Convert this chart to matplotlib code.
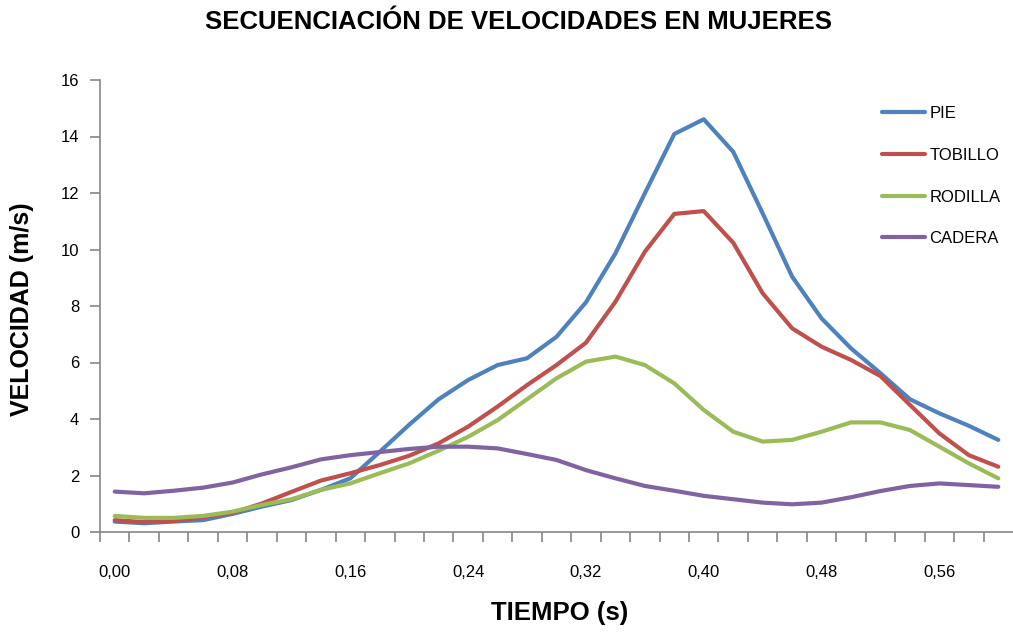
import matplotlib
matplotlib.use("Agg")
import matplotlib.pyplot as plt
import numpy as np

tiempo = [round(0.02 * i, 2) for i in range(31)]

pie = [0.37, 0.31, 0.37, 0.42, 0.64, 0.90, 1.13, 1.49, 1.90, 2.84,
       3.80, 4.70, 5.38, 5.91, 6.15, 6.91, 8.13, 9.86, 11.99, 14.09,
       14.61, 13.46, 11.28, 9.04, 7.56, 6.50, 5.62, 4.70, 4.20, 3.76, 3.26]
tobillo = [0.42, 0.35, 0.39, 0.52, 0.68, 1.01, 1.42, 1.82, 2.08, 2.37,
           2.70, 3.14, 3.73, 4.44, 5.20, 5.91, 6.70, 8.15, 9.92, 11.26,
           11.36, 10.24, 8.45, 7.21, 6.56, 6.09, 5.52, 4.50, 3.49, 2.72, 2.31]
rodilla = [0.57, 0.50, 0.50, 0.57, 0.72, 0.96, 1.16, 1.49, 1.72, 2.08,
           2.43, 2.88, 3.37, 3.96, 4.70, 5.44, 6.03, 6.21, 5.91, 5.26,
           4.32, 3.55, 3.20, 3.26, 3.55, 3.88, 3.88, 3.61, 3.02, 2.43, 1.90]
cadera = [1.43, 1.37, 1.46, 1.57, 1.75, 2.04, 2.29, 2.57, 2.72, 2.83,
          2.94, 3.02, 3.02, 2.96, 2.76, 2.55, 2.19, 1.90, 1.63, 1.46,
          1.28, 1.16, 1.04, 0.98, 1.04, 1.23, 1.45, 1.63, 1.72, 1.66, 1.60]

series = [("PIE", pie, "#4F81BD"),
          ("TOBILLO", tobillo, "#C0504D"),
          ("RODILLA", rodilla, "#9BBB59"),
          ("CADERA", cadera, "#8064A2")]

x_labels = ["0,00", "0,08", "0,16", "0,24", "0,32", "0,40", "0,48", "0,56"]

plt.rcParams['font.family'] = ['Liberation Sans', 'DejaVu Sans']

fig = plt.figure(figsize=(10.13, 6.32), dpi=100)
ax = fig.add_axes([100 / 1013, 100 / 632, 913 / 1013, 452 / 632])

for name, vals, color in series:
    ax.plot(tiempo, vals, color=color, lw=3, label=name, solid_capstyle='round')

ax.set_xlim(-0.01, 0.61)
ax.set_ylim(0, 16)
ax.set_yticks(np.arange(0, 17, 2))
ax.set_yticklabels([str(v) for v in range(0, 17, 2)], fontsize=12)

# tick marks between categories, labels every 4 categories
ax.set_xticks(np.arange(-0.01, 0.6, 0.02))
ax.set_xticklabels([])
ax.set_xticks([0.08 * i for i in range(8)], minor=True)
ax.set_xticklabels(x_labels, minor=True, fontsize=12)
ax.tick_params(axis='x', which='minor', length=0, pad=24)
ax.tick_params(axis='x', which='major', length=7, color='#868686', width=1.2)
ax.tick_params(axis='y', length=7, color='#868686', width=1.2, pad=8)

for side in ['top', 'right']:
    ax.spines[side].set_visible(False)
for side in ['left', 'bottom']:
    ax.spines[side].set_color('#868686')
    ax.spines[side].set_linewidth(1.2)

fig.text(0.512, 0.965, "SECUENCIACIÓN DE VELOCIDADES EN MUJERES",
         ha='center', va='center', fontsize=18.5, fontweight='bold')
fig.text(0.022, 0.51, "VELOCIDAD (m/s)", rotation=90, ha='center', va='center',
         fontsize=18, fontweight='bold')
fig.text(0.552, 0.03, "TIEMPO (s)", ha='center', va='center',
         fontsize=18.5, fontweight='bold')

ax.legend(loc='upper left', bbox_to_anchor=(0.84, 0.975), frameon=False,
          fontsize=12, handlelength=2.6, labelspacing=1.6, handletextpad=0.25)

fig.savefig("out.png", dpi=100)
